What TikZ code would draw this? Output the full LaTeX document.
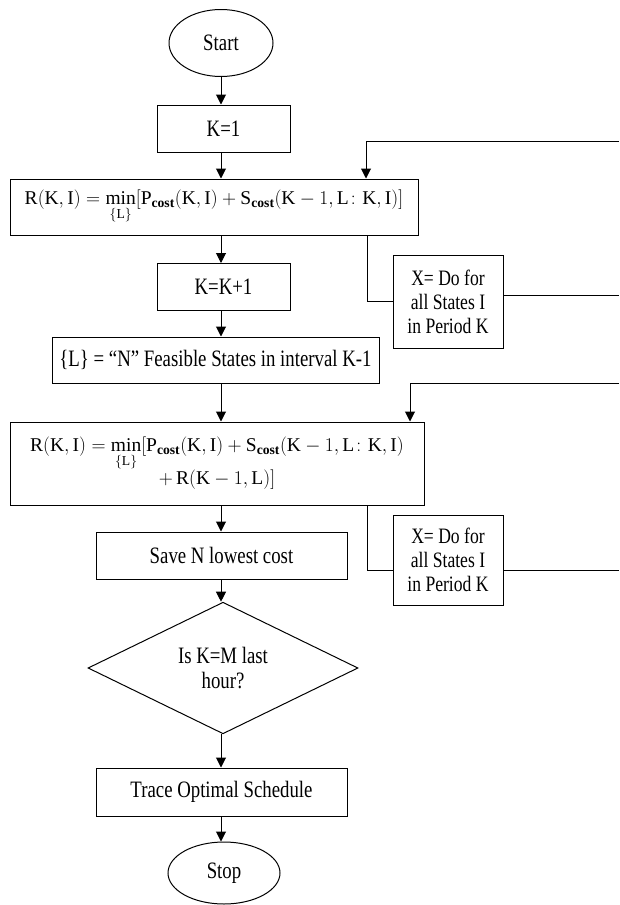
\documentclass[tikz,border=0pt]{standalone}
\usepackage{fix-cm}
\usepackage{amsmath}
\usepackage{fontspec}
\setmainfont[FakeStretch=0.8]{Liberation Serif}
\setmathrm{Liberation Serif}
\newfontfamily\eqfont{Liberation Serif}
\usetikzlibrary{positioning,arrows.meta,shapes.geometric}

\newcommand{\cst}{\text{\eqfont\bfseries cost}}

\begin{document}
\begin{tikzpicture}[x=1pt, y=-1pt,
  box/.style={rectangle, draw=black, line width=1pt, inner sep=2pt,
              font=\fontsize{23.5}{25}\selectfont, align=center},
  term/.style={ellipse, draw=black, line width=1pt, inner sep=0pt,
               font=\fontsize{23.5}{25}\selectfont},
  ask/.style={diamond, draw=black, line width=1pt, inner sep=0pt,
              font=\fontsize{23.5}{25}\selectfont, align=center},
  xbox/.style={rectangle, draw=black, line width=1pt, inner sep=1pt,
               font=\fontsize{22}{24}\selectfont, align=center,
               minimum width=110pt},
  eq/.style={box, font=\eqfont\fontsize{19.5}{25}\selectfont},
  ar/.style={-{Triangle[length=10pt, width=10pt]}, line width=1pt},
  ln/.style={line width=1pt},
]
\useasboundingbox (0,0) rectangle (619,905);

\node[term, minimum width=104pt, minimum height=67pt] (start) at (221,43) {Start};
\node[box, minimum width=133pt, minimum height=47pt] (kone) at (223.5,128.5) {K=1};
\node[eq, minimum width=408pt, minimum height=56pt] (rone) at (214,207)
  {$\mathrm{R(K,I)} = \min\limits_{\{\mathrm{L}\}}[\mathrm{P}_{\cst}(\mathrm{K,I}) + \mathrm{S}_{\cst}(\mathrm{K} - 1, \mathrm{L}\colon \mathrm{K,I})]$};
\node[box, minimum width=133pt, minimum height=47pt] (kinc) at (223.5,287) {K=K+1};
\node[box, minimum width=327pt, minimum height=46pt] (lset) at (215.5,360)
  {\{L\} = “N” Feasible States in interval K-1};
\node[eq, minimum width=414pt, minimum height=83pt] (rtwo) at (217,463.5)
  {$\mathrm{R(K,I)} = \min\limits_{\{\mathrm{L}\}}[\mathrm{P}_{\cst}(\mathrm{K,I}) + \mathrm{S}_{\cst}(\mathrm{K} - 1, \mathrm{L}\colon \mathrm{K,I})$\\[-2pt]
   $+\, \mathrm{R}(\mathrm{K} - 1, \mathrm{L})]$};
\node[box, minimum width=251pt, minimum height=47pt] (save) at (221.5,555.5) {Save N lowest cost};
\node[ask, minimum width=270pt, minimum height=124pt] (last) at (223,668) {Is K=M last\\hour?};
\node[box, minimum width=251pt, minimum height=48pt] (trace) at (221.5,792) {Trace Optimal Schedule};
\node[term, minimum width=112pt, minimum height=62pt] (stop) at (224,873) {Stop};

\node[xbox, minimum height=93pt] (xone) at (448,301.5) {X= Do for\\all States I\\in Period K};
\node[xbox, minimum height=90pt] (xtwo) at (448,560) {X= Do for\\all States I\\in Period K};

\coordinate (inone)  at (619,141);
\coordinate (outone) at (619,295);
\coordinate (intwo)  at (619,383);
\coordinate (outtwo) at (619,570);

\foreach \a/\b in {start/kone, kone/rone, rone/kinc, kinc/lset, lset/rtwo,
                   rtwo/save, save/last, last/trace, trace/stop}
  \draw[ar] (\a.south -| start) -- (\b.north -| start);

\draw[ar] (inone) -| ([xshift=152pt]rone.north);
\draw[ln] ([xshift=153pt]rone.south) |- (xone.west);
\draw[ln] (xone.east |- outone) -- (outone);

\draw[ar] (intwo) -| ([xshift=193pt]rtwo.north);
\draw[ln] ([xshift=150pt]rtwo.south) |- (xtwo.west |- outtwo);
\draw[ln] (xtwo.east |- outtwo) -- (outtwo);

\end{tikzpicture}
\end{document}
